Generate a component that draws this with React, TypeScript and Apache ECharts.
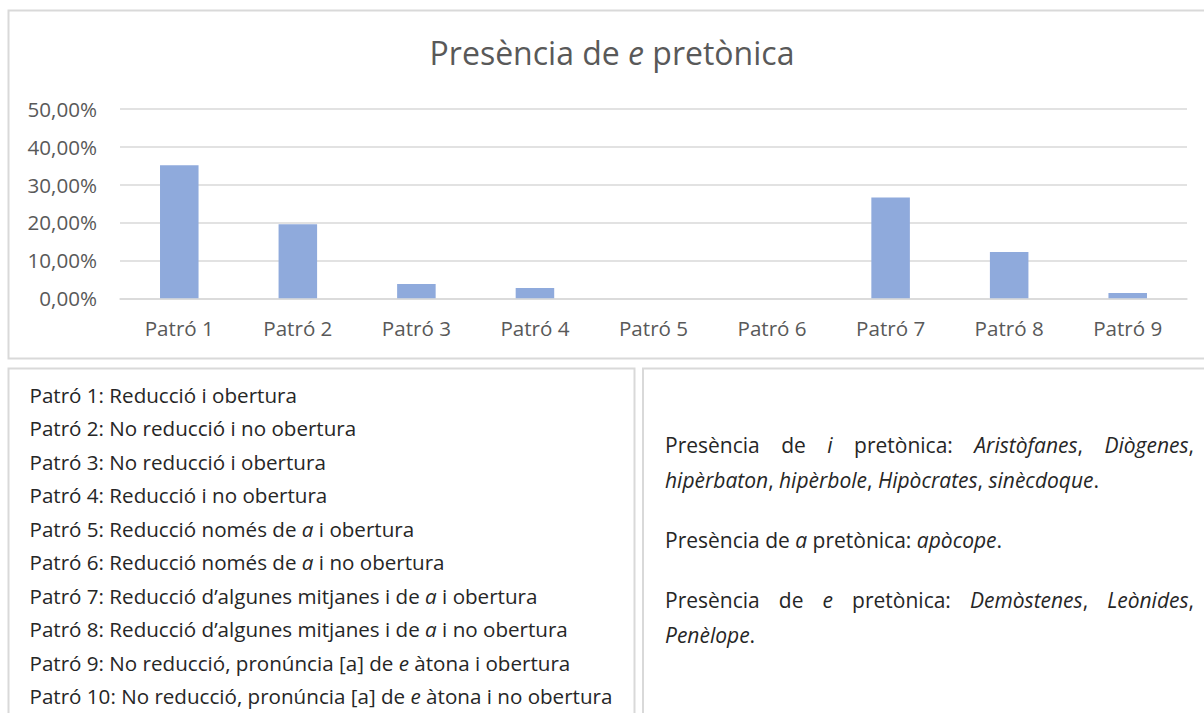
import React, { useEffect, useRef } from 'react';
import * as echarts from 'echarts';

type Run = { t: string; i?: boolean };

const categories = ['Patró 1', 'Patró 2', 'Patró 3', 'Patró 4', 'Patró 5', 'Patró 6', 'Patró 7', 'Patró 8', 'Patró 9'];
const values = [0.351, 0.195, 0.038, 0.027, 0, 0, 0.266, 0.122, 0.014];
const yMin = 0;
const yMax = 0.5;
const yStep = 0.1;

const titleRuns: Run[] = [{ t: 'Presència de ' }, { t: 'e', i: true }, { t: ' pretònica' }];

const legendLines: Run[][] = [
  [{ t: 'Patró 1: Reducció i obertura' }],
  [{ t: 'Patró 2: No reducció i no obertura' }],
  [{ t: 'Patró 3: No reducció i obertura' }],
  [{ t: 'Patró 4: Reducció i no obertura' }],
  [{ t: 'Patró 5: Reducció només de ' }, { t: 'a', i: true }, { t: ' i obertura' }],
  [{ t: 'Patró 6: Reducció només de ' }, { t: 'a', i: true }, { t: ' i no obertura' }],
  [{ t: 'Patró 7: Reducció d’algunes mitjanes i de ' }, { t: 'a', i: true }, { t: ' i obertura' }],
  [{ t: 'Patró 8: Reducció d’algunes mitjanes i de ' }, { t: 'a', i: true }, { t: ' i no obertura' }],
  [{ t: 'Patró 9: No reducció, pronúncia [a] de ' }, { t: 'e', i: true }, { t: ' àtona i obertura' }],
  [{ t: 'Patró 10: No reducció, pronúncia [a] de ' }, { t: 'e', i: true }, { t: ' àtona i no obertura' }],
];

// notes: each line is a list of words, each word a list of runs
const noteLines: { words: Run[][]; justify: boolean }[] = [
  {
    justify: true,
    words: [
      [{ t: 'Presència' }], [{ t: 'de' }], [{ t: 'i', i: true }], [{ t: 'pretònica:' }],
      [{ t: 'Aristòfanes', i: true }, { t: ',' }], [{ t: 'Diògenes', i: true }, { t: ',' }],
    ],
  },
  {
    justify: false,
    words: [
      [{ t: 'hipèrbaton', i: true }, { t: ',' }], [{ t: 'hipèrbole', i: true }, { t: ',' }],
      [{ t: 'Hipòcrates', i: true }, { t: ',' }], [{ t: 'sinècdoque', i: true }, { t: '.' }],
    ],
  },
  {
    justify: false,
    words: [
      [{ t: 'Presència' }], [{ t: 'de' }], [{ t: 'a', i: true }], [{ t: 'pretònica:' }],
      [{ t: 'apòcope', i: true }, { t: '.' }],
    ],
  },
  {
    justify: true,
    words: [
      [{ t: 'Presència' }], [{ t: 'de' }], [{ t: 'e', i: true }], [{ t: 'pretònica:' }],
      [{ t: 'Demòstenes', i: true }, { t: ',' }], [{ t: 'Leònides', i: true }, { t: ',' }],
    ],
  },
  { justify: false, words: [[{ t: 'Penèlope', i: true }, { t: '.' }]] },
];
const noteY = [445, 480, 540, 600, 635];

const FONT = '"Open Sans", Lato, sans-serif';
const AXIS_COLOR = '#595959';
const TEXT_COLOR = '#262626';
const GRID_COLOR = '#d9d9d9';
const BAR_COLOR = '#8faadc';

let ctx: CanvasRenderingContext2D | null = null;
function measure(text: string, italic: boolean, size: number) {
  if (!ctx) ctx = document.createElement('canvas').getContext('2d');
  if (!ctx) return text.length * size * 0.5;
  ctx.font = `${italic ? 'italic ' : ''}${size}px ${FONT}`;
  return ctx.measureText(text).width;
}

function richString(runs: Run[]) {
  return runs.map((r) => `{${r.i ? 'i' : 'n'}|${r.t}}`).join('');
}
function richStyles(size: number, color: string, weight: string | number) {
  return {
    n: { fontFamily: FONT, fontSize: size, color, fontStyle: 'normal', fontWeight: weight },
    i: { fontFamily: FONT, fontSize: size, color, fontStyle: 'italic', fontWeight: weight },
  };
}

function textEl(runs: Run[], x: number, y: number, size: number, color: string, align = 'left', weight: string | number = 'normal') {
  return {
    type: 'text',
    x,
    y,
    silent: true,
    style: {
      text: richString(runs),
      rich: richStyles(size, color, weight),
      fontFamily: FONT,
      fontSize: size,
      fill: color,
      align,
      verticalAlign: 'middle',
    },
  };
}

function buildNotes(size: number, x0: number, x1: number) {
  const els: any[] = [];
  noteLines.forEach((line, li) => {
    const y = noteY[li];
    if (!line.justify) {
      const runs: Run[] = [];
      line.words.forEach((w, wi) => {
        if (wi > 0) runs.push({ t: ' ' });
        w.forEach((r) => runs.push(r));
      });
      els.push(textEl(runs, x0, y, size, TEXT_COLOR));
      return;
    }
    const widths = line.words.map((w) => w.reduce((s, r) => s + measure(r.t, !!r.i, size), 0));
    const total = widths.reduce((a, b) => a + b, 0);
    const gap = (x1 - x0 - total) / (line.words.length - 1);
    let cx = x0;
    line.words.forEach((w, wi) => {
      els.push(textEl(w, cx, y, size, TEXT_COLOR));
      cx += widths[wi] + gap;
    });
  });
  return els;
}

export default function App() {
  const ref = useRef<HTMLDivElement>(null);
  useEffect(() => {
    if (!ref.current) return;
    const chart = echarts.init(ref.current, null, { renderer: 'svg' });
    const boxes = [
      { x: 8.5, y: 10.5, w: 1210, h: 348 },
      { x: 8.5, y: 368.5, w: 626, h: 360 },
      { x: 643, y: 368.5, w: 580, h: 360 },
    ].map((b) => ({
      type: 'rect',
      silent: true,
      shape: { x: b.x, y: b.y, width: b.w, height: b.h },
      style: { fill: 'none', stroke: GRID_COLOR, lineWidth: 2 },
    }));
    const legendEls = legendLines.map((runs, i) => textEl(runs, 29.5, 394.5 + 33.5 * i, 20.6, TEXT_COLOR));
    const option: any = {
      animation: false,
      backgroundColor: '#ffffff',
      grid: { left: 120, right: 17, top: 108.7, bottom: 414.7, containLabel: false },
      xAxis: {
        type: 'category',
        data: categories,
        axisLine: { show: true, lineStyle: { color: GRID_COLOR, width: 1.5 } },
        axisTick: { show: false },
        axisLabel: { color: AXIS_COLOR, fontSize: 20.6, fontFamily: FONT, margin: 19 },
      },
      yAxis: {
        type: 'value',
        min: yMin,
        max: yMax,
        interval: yStep,
        axisLine: { show: false },
        axisTick: { show: false },
        splitLine: { show: true, lineStyle: { color: GRID_COLOR, width: 1.5 } },
        axisLabel: {
          color: AXIS_COLOR,
          fontSize: 20.6,
          fontFamily: FONT,
          margin: 23,
          formatter: (v: number) => (v * 100).toFixed(2).replace('.', ',') + '%',
        },
      },
      series: [
        {
          type: 'bar',
          data: values,
          barWidth: '32.5%',
          itemStyle: { color: BAR_COLOR },
        },
      ],
      graphic: [
        ...boxes,
        textEl(titleRuns, 612, 52, 32, AXIS_COLOR, 'center', 'normal'),
        ...legendEls,
        ...buildNotes(21, 665, 1194),
      ],
    };
    chart.setOption(option);
    return () => chart.dispose();
  }, []);
  return (
    <div
      ref={ref}
      style={{ position: 'fixed', left: 0, top: 0, width: 1204, height: 713, background: '#fff' }}
    />
  );
}
